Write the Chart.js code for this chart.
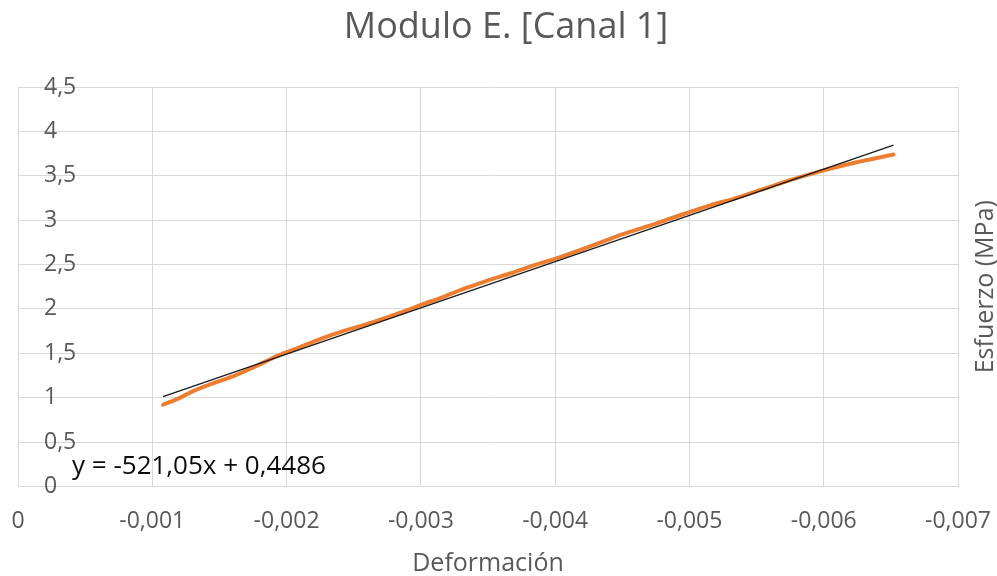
<!DOCTYPE html>
<html>
<head>
<meta charset="utf-8">
<script src="https://cdn.jsdelivr.net/npm/chart.js@4/dist/chart.umd.min.js"></script>
<style>
  html, body { margin: 0; padding: 0; background: #ffffff; }
  #wrap { width: 997px; height: 576px; position: relative; }
</style>
</head>
<body>
<div id="wrap"><canvas id="chart"></canvas></div>
<script>
// Measured strain (Deformación) and stress (Esfuerzo, MPa), channel 1
const deformacion = [
  -0.00108, -0.00118, -0.00130, -0.00145, -0.00160, -0.00178, -0.00193,
  -0.00210, -0.00225, -0.00242, -0.00258, -0.00272, -0.00287, -0.00301,
  -0.00316, -0.00329, -0.00342, -0.00354, -0.00369, -0.00384, -0.00401,
  -0.00420, -0.00441, -0.00456, -0.00471, -0.00486, -0.00500, -0.00516,
  -0.00533, -0.00553, -0.00575, -0.00600, -0.00627, -0.00652
];
const esfuerzo = [
  0.92, 0.98, 1.07, 1.16, 1.24, 1.36, 1.47,
  1.57, 1.66, 1.75, 1.82, 1.89, 1.97, 2.05,
  2.13, 2.21, 2.28, 2.34, 2.41, 2.49, 2.57,
  2.67, 2.79, 2.87, 2.94, 3.02, 3.09, 3.17,
  3.24, 3.34, 3.45, 3.56, 3.66, 3.74
];

// Linear trend line coefficients (as printed on the chart)
const pendiente = -521.05;
const intercepto = 0.4486;

// Tick values for both axes
const xTicks = [0, -0.001, -0.002, -0.003, -0.004, -0.005, -0.006, -0.007];
const yTicks = [0, 0.5, 1, 1.5, 2, 2.5, 3, 3.5, 4, 4.5];

const FONT = "'Open Sans', 'Noto Sans', sans-serif";
const GREY = '#595959';
const GRID = '#d9d9d9';

const puntos = deformacion.map((x, i) => ({ x: x, y: esfuerzo[i] }));
const xIni = deformacion[0];
const xFin = deformacion[deformacion.length - 1];
const tendencia = [
  { x: xIni, y: pendiente * xIni + intercepto },
  { x: xFin, y: pendiente * xFin + intercepto }
];

const coma = v => String(v).replace('.', ',');

// Chart title, equation label and right-hand rotated axis title
const extras = {
  id: 'extras',
  afterDraw(chart) {
    const { ctx, chartArea } = chart;
    ctx.save();
    ctx.fillStyle = GREY;
    ctx.font = '36px ' + FONT;
    ctx.textAlign = 'center';
    ctx.textBaseline = 'middle';
    ctx.fillText('Modulo E. [Canal 1]', 506, 28);

    ctx.fillStyle = '#0d0d0d';
    ctx.font = '26px ' + FONT;
    ctx.textAlign = 'left';
    ctx.fillText('y = -521,05x + 0,4486', chartArea.left + 54, chartArea.bottom - 20);

    ctx.fillStyle = GREY;
    ctx.font = '25px ' + FONT;
    ctx.textAlign = 'center';
    ctx.translate(986, (chartArea.top + chartArea.bottom) / 2);
    ctx.rotate(-Math.PI / 2);
    ctx.fillText('Esfuerzo (MPa)', 0, 0);
    ctx.restore();
  }
};

new Chart(document.getElementById('chart'), {
  type: 'scatter',
  data: {
    datasets: [
      {
        label: 'Lineal',
        data: tendencia,
        showLine: true,
        borderColor: '#1a1a1a',
        borderWidth: 1.3,
        pointRadius: 0,
        tension: 0
      },
      {
        label: 'Canal 1',
        data: puntos,
        showLine: true,
        borderColor: '#ED7D31',
        borderWidth: 4,
        pointRadius: 0,
        tension: 0.2,
        borderCapStyle: 'round',
        borderJoinStyle: 'round'
      }
    ]
  },
  options: {
    responsive: true,
    maintainAspectRatio: false,
    animation: false,
    layout: { padding: { left: 18, right: 39, top: 87, bottom: 0 } },
    plugins: {
      legend: { display: false },
      tooltip: { enabled: false },
      title: { display: false }
    },
    scales: {
      x: {
        type: 'linear',
        min: Math.min(...xTicks),
        max: Math.max(...xTicks),
        reverse: true,
        afterBuildTicks: axis => { axis.ticks = xTicks.map(v => ({ value: v })); },
        afterFit: axis => {
          axis.height -= 19;
          axis.paddingLeft = 0;
          axis.paddingRight = 0;
        },
        ticks: {
          color: GREY,
          font: { family: FONT, size: 23 },
          padding: 21,
          maxRotation: 0,
          callback: v => (Math.abs(v) < 1e-12 ? '0' : coma((Math.round(v * 1000) / 1000).toFixed(3)))
        },
        grid: { color: GRID, lineWidth: 1, drawTicks: false },
        border: { color: GRID, width: 1 },
        title: {
          display: true,
          text: 'Deformación',
          color: GREY,
          font: { family: FONT, size: 25 },
          padding: { top: 12, bottom: -3 }
        }
      },
      y: {
        type: 'linear',
        min: Math.min(...yTicks),
        max: Math.max(...yTicks),
        afterBuildTicks: axis => { axis.ticks = yTicks.map(v => ({ value: v })); },
        afterFit: axis => {
          axis.width = 0;
          axis.paddingTop = 0;
          axis.paddingBottom = 0;
        },
        ticks: {
          mirror: true,
          padding: 26,
          color: GREY,
          font: { family: FONT, size: 23 },
          callback: v => coma(v)
        },
        grid: { color: GRID, lineWidth: 1, drawTicks: false },
        border: { color: GRID, width: 1 }
      }
    }
  },
  plugins: [extras]
});
</script>
</body>
</html>
